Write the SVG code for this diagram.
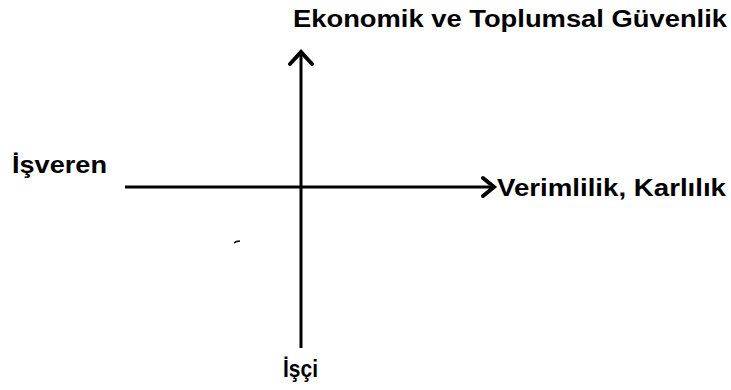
<svg xmlns="http://www.w3.org/2000/svg" width="731" height="390" viewBox="0 0 731 390">
<style>
text{font-family:"Liberation Sans",Arial,sans-serif;font-weight:bold;fill:#000;font-size:24px}
.ax{stroke:#000;stroke-width:3;fill:none}
.hd{stroke:#000;stroke-width:4;fill:none;stroke-linecap:round;stroke-linejoin:miter}
</style>
<rect width="731" height="390" fill="#fff"/>
<g id="connectors">
<line class="ax" x1="301" y1="53" x2="301" y2="348"/>
<polyline class="hd" points="290,64 301,52 312,64"/>
<line class="ax" x1="125" y1="187" x2="493" y2="187"/>
<polyline class="hd" points="483,178 494,187 483,196"/>
<path d="M240,241 Q236,241 234,243" stroke="#000" stroke-width="1.5" fill="none"/>
</g>
<g id="node-top"><text x="293" y="27" textLength="434" lengthAdjust="spacingAndGlyphs">Ekonomik ve Toplumsal Güvenlik</text></g>
<g id="node-left"><text x="12" y="173" textLength="95" lengthAdjust="spacingAndGlyphs">İşveren</text></g>
<g id="node-right"><text x="497" y="196" textLength="229" lengthAdjust="spacingAndGlyphs">Verimlilik, Karlılık</text></g>
<g id="node-bottom"><text x="283" y="377" textLength="35" lengthAdjust="spacingAndGlyphs">İşçi</text></g>
</svg>
